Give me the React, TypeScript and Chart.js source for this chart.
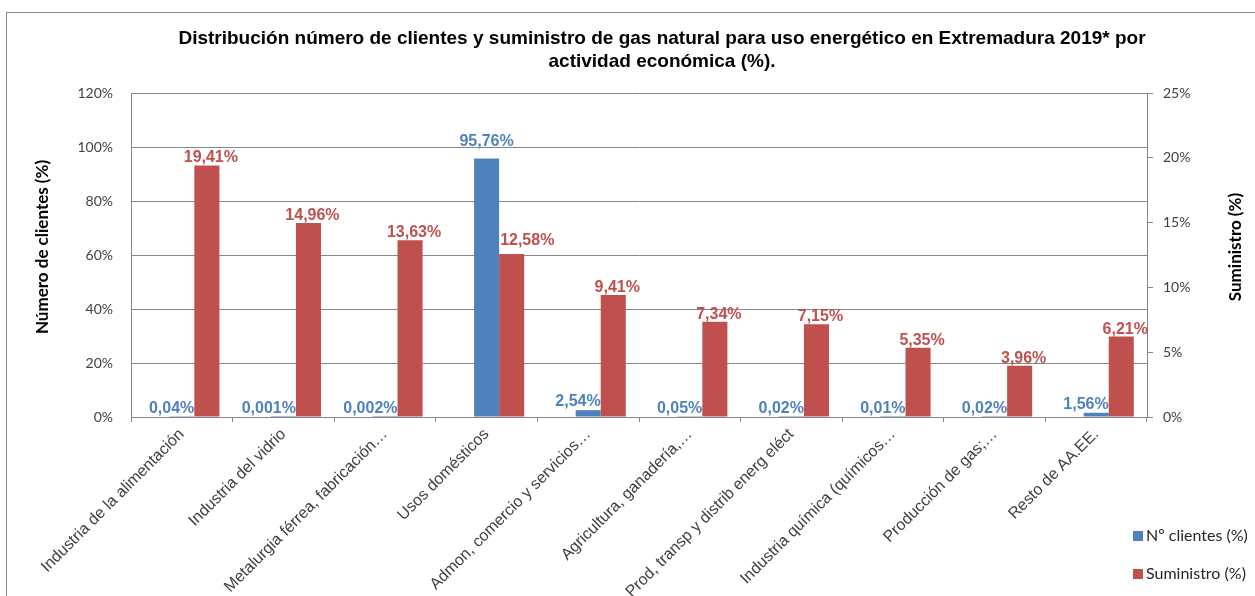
import { useEffect, useRef } from "react";
import { Chart, registerables } from "chart.js";

Chart.register(...registerables);

const TITLE_LINES = [
  "Distribución número de clientes y suministro de gas natural para uso energético en Extremadura 2019* por",
  "actividad económica (%).",
];

const CATEGORIES = [
  "Industria de la alimentación",
  "Industria del vidrio",
  "Metalurgia férrea, fabricación…",
  "Usos domésticos",
  "Admon, comercio y servicios…",
  "Agricultura, ganadería,…",
  "Prod, transp y distrib energ eléct",
  "Industria química (químicos…",
  "Producción de gas;…",
  "Resto de AA.EE.",
];

const CLIENTES = [0.04, 0.001, 0.002, 95.76, 2.54, 0.05, 0.02, 0.01, 0.02, 1.56];
const SUMINISTRO = [19.41, 14.96, 13.63, 12.58, 9.41, 7.34, 7.15, 5.35, 3.96, 6.21];
const SPACER = CATEGORIES.map(() => null);

const SERIES_NAMES = ["Nº clientes (%)", "Suministro (%)"];
const Y_LEFT_TITLE = "Número de clientes (%)";
const Y_RIGHT_TITLE = "Suministro (%)";

const LEFT_MIN = 0;
const LEFT_MAX = 120;
const LEFT_STEP = 20;
const RIGHT_MIN = 0;
const RIGHT_MAX = 25;
const RIGHT_STEP = 5;

const BLUE = "#4F81BD";
const RED = "#C0504D";
const GRID = "#868686";
const TICK_TEXT = "#404040";

const fmt = (v: number) => {
  const dec = v > 0 && v < 0.01 ? 3 : 2;
  return v.toFixed(dec).replace(".", ",") + "%";
};

const decor = {
  id: "decor",
  beforeDraw(chart: any) {
    const ctx = chart.ctx;
    ctx.save();
    ctx.fillStyle = "#ffffff";
    ctx.fillRect(0, 0, chart.width, chart.height);
    ctx.strokeStyle = GRID;
    ctx.lineWidth = 1;
    ctx.strokeRect(6.5, 12.5, chart.width + 50, chart.height + 50);
    ctx.restore();
  },
  afterDraw(chart: any) {
    const ctx = chart.ctx;
    const area = chart.chartArea;
    ctx.save();
    // title
    ctx.fillStyle = "#000000";
    ctx.font = 'bold 19px "Liberation Sans", Arial, sans-serif';
    ctx.textAlign = "center";
    ctx.textBaseline = "alphabetic";
    ctx.fillText(TITLE_LINES[0], 662, 44);
    ctx.fillText(TITLE_LINES[1], 662, 67);

    // axis titles
    const midY = (area.top + area.bottom) / 2 - 8;
    ctx.font = 'bold 17px Lato, "Open Sans", sans-serif';
    ctx.textBaseline = "middle";
    ctx.save();
    ctx.translate(43, midY);
    ctx.rotate(-Math.PI / 2);
    ctx.fillText(Y_LEFT_TITLE, 0, 0);
    ctx.restore();
    ctx.save();
    ctx.translate(1236, midY);
    ctx.rotate(-Math.PI / 2);
    ctx.fillText(Y_RIGHT_TITLE, 0, 0);
    ctx.restore();

    // legend
    ctx.font = '16px Lato, "Open Sans", sans-serif';
    ctx.textAlign = "left";
    ctx.textBaseline = "middle";
    const colors = [BLUE, RED];
    SERIES_NAMES.forEach((name, i) => {
      const y = 536 + i * 38;
      ctx.fillStyle = colors[i];
      ctx.fillRect(1133, y - 5, 10, 10);
      ctx.fillStyle = "#262626";
      ctx.fillText(name, 1146, y);
    });

    // data labels
    ctx.font = 'bold 16px "Liberation Sans", Arial, sans-serif';
    ctx.textBaseline = "alphabetic";
    const blueMeta = chart.getDatasetMeta(1);
    const redMeta = chart.getDatasetMeta(2);
    blueMeta.data.forEach((bar: any, i: number) => {
      const v = CLIENTES[i];
      const p = bar.getProps(["x", "y", "width"], true);
      ctx.fillStyle = BLUE;
      if (v >= 10) {
        ctx.textAlign = "center";
        ctx.fillText(fmt(v), p.x, p.y - 12);
      } else {
        ctx.textAlign = "right";
        ctx.fillText(fmt(v), p.x + p.width / 2, p.y - 4);
      }
    });
    redMeta.data.forEach((bar: any, i: number) => {
      const v = SUMINISTRO[i];
      const p = bar.getProps(["x", "y", "width"], true);
      const blue = blueMeta.data[i].getProps(["y"], true);
      const text = fmt(v);
      const w = ctx.measureText(text).width;
      ctx.fillStyle = RED;
      const baseY = p.y - 3;
      const cx = p.x + 4;
      if (blue.y < baseY && cx - w / 2 < p.x - p.width / 2) {
        ctx.textAlign = "left";
        ctx.fillText(text, p.x - p.width / 2 + 1, baseY - 6);
      } else {
        ctx.textAlign = "center";
        ctx.fillText(text, cx, baseY);
      }
    });
    ctx.restore();
  },
};

export default function App() {
  const ref = useRef<HTMLCanvasElement>(null);

  useEffect(() => {
    const chart = new Chart(ref.current!, {
      type: "bar",
      data: {
        labels: CATEGORIES,
        datasets: [
          {
            label: "",
            data: SPACER,
            yAxisID: "y",
            backgroundColor: "rgba(0,0,0,0)",
          },
          {
            label: SERIES_NAMES[0],
            data: CLIENTES,
            yAxisID: "y",
            backgroundColor: BLUE,
          },
          {
            label: SERIES_NAMES[1],
            data: SUMINISTRO,
            yAxisID: "y1",
            backgroundColor: RED,
          },
        ],
      },
      options: {
        responsive: false,
        animation: false,
        devicePixelRatio: 1,
        layout: { padding: { top: 93, left: 0, right: 0, bottom: 0 } },
        datasets: {
          bar: { categoryPercentage: 0.74, barPercentage: 1.0 },
        },
        plugins: {
          legend: { display: false },
          title: { display: false },
          tooltip: { enabled: false },
        },
        scales: {
          x: {
            type: "category",
            offset: true,
            grid: {
              offset: true,
              drawOnChartArea: false,
              drawTicks: true,
              tickLength: 5,
              color: GRID,
            },
            border: { color: GRID },
            ticks: {
              autoSkip: false,
              maxRotation: 45,
              minRotation: 45,
              padding: 3,
              color: TICK_TEXT,
              font: { family: '"Liberation Sans", Arial, sans-serif', size: 16 },
            },
            afterFit: (s: any) => {
              s.height = 179;
            },
          },
          y: {
            position: "left",
            min: LEFT_MIN,
            max: LEFT_MAX,
            grid: { color: GRID, drawTicks: false },
            border: { color: GRID },
            ticks: {
              stepSize: LEFT_STEP,
              padding: 18,
              color: TICK_TEXT,
              font: { family: 'Lato, "Open Sans", sans-serif', size: 14 },
              callback: (v: any) => v + "%",
            },
            afterFit: (s: any) => {
              s.width = 131;
            },
          },
          y1: {
            position: "right",
            min: RIGHT_MIN,
            max: RIGHT_MAX,
            grid: { drawOnChartArea: false, drawTicks: true, tickLength: 6, color: GRID },
            border: { color: GRID },
            ticks: {
              stepSize: RIGHT_STEP,
              padding: 10,
              color: TICK_TEXT,
              font: { family: 'Lato, "Open Sans", sans-serif', size: 14 },
              callback: (v: any) => v + "%",
            },
            afterFit: (s: any) => {
              s.width = 108;
            },
          },
        },
      },
      plugins: [decor],
    } as any);
    return () => chart.destroy();
  }, []);

  return (
    <div
      style={{
        position: "absolute",
        left: 0,
        top: 0,
        width: 1255,
        height: 596,
        background: "#ffffff",
      }}
    >
      <canvas ref={ref} width={1255} height={596} style={{ display: "block" }} />
    </div>
  );
}
